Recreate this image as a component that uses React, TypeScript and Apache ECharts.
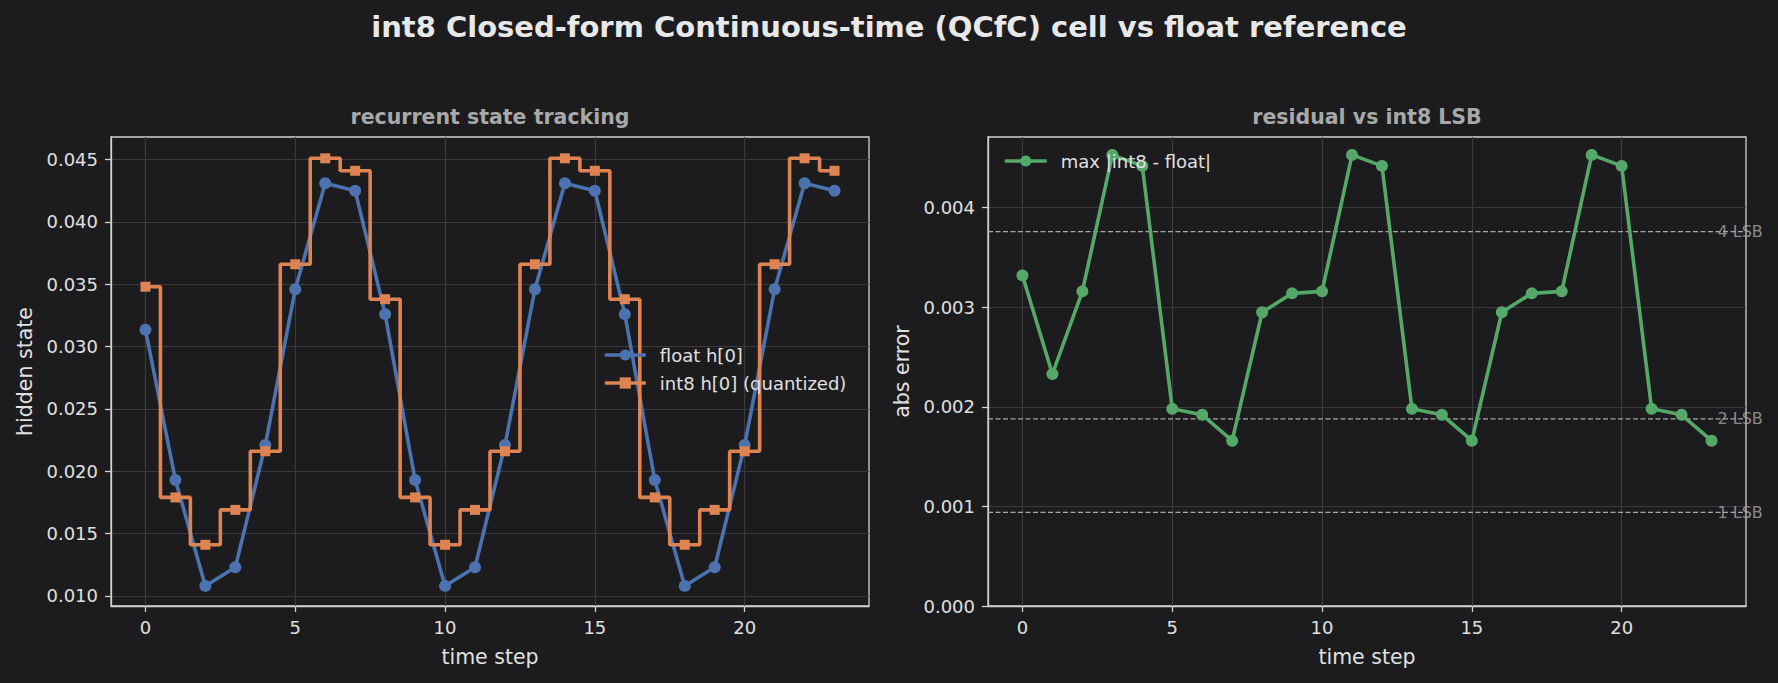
import React, { useEffect, useRef } from "react";
import * as echarts from "echarts";

// ---- data ----
const timeSteps = [0, 1, 2, 3, 4, 5, 6, 7, 8, 9, 10, 11, 12, 13, 14, 15, 16, 17, 18, 19, 20, 21, 22, 23];

const floatH0 = [
  0.03135, 0.0193, 0.0108, 0.0123, 0.0221, 0.0346, 0.0431, 0.0425,
  0.0326, 0.0193, 0.0108, 0.0123, 0.0221, 0.0346, 0.0431, 0.0425,
  0.0326, 0.0193, 0.0108, 0.0123, 0.0221, 0.0346, 0.0431, 0.0425,
];

const int8H0 = [
  0.0348, 0.0179, 0.0141, 0.0169, 0.0216, 0.0366, 0.0451, 0.0441,
  0.0338, 0.0179, 0.0141, 0.0169, 0.0216, 0.0366, 0.0451, 0.0441,
  0.0338, 0.0179, 0.0141, 0.0169, 0.0216, 0.0366, 0.0451, 0.0441,
];

const maxAbsErr = [
  0.00332, 0.00233, 0.00316, 0.00453, 0.00442, 0.00198, 0.00192, 0.00166,
  0.00295, 0.00314, 0.00316, 0.00453, 0.00442, 0.00198, 0.00192, 0.00166,
  0.00295, 0.00314, 0.00316, 0.00453, 0.00442, 0.00198, 0.00192, 0.00166,
];

const lsbLevels = [0.00094, 0.00188, 0.00376];
const lsbLabels = ["1 LSB", "2 LSB", "4 LSB"];

const xTicks = [0, 5, 10, 15, 20];
const yTicksState = [0.01, 0.015, 0.02, 0.025, 0.03, 0.035, 0.04, 0.045];
const yTicksErr = [0, 0.001, 0.002, 0.003, 0.004];

// ---- styling ----
const FONT = "DejaVu Sans";
const BG = "#1c1c1e";
const GRID_LINE = "#3b3b3d";
const SPINE = "#d2d2d2";
const TEXT = "#e0e0e0";
const SUBTITLE = "#a8a8a8";
const REF_LINE = "#a8a8a8";
const BLUE = "#4c72b0";
const ORANGE = "#dd8452";
const GREEN = "#55a868";

const X_MIN = -1.15;
const X_MAX = 24.15;
const LSB_LABEL_X = 23.2;

const LINE_W = 3.6;
const DOT = 12;
const SQUARE = 10;

const GRID_TOP = 137;
const GRID_H = 469;
const LEFT_GRID = { left: 111, width: 758 };
const RIGHT_GRID = { left: 988, width: 758 };

function xAxis(gridIndex: number) {
  return {
    type: "value",
    gridIndex,
    min: X_MIN,
    max: X_MAX,
    axisLine: { show: true, onZero: false, lineStyle: { color: SPINE, width: 1.3 } },
    axisTick: {
      show: true,
      length: 6,
      customValues: xTicks,
      lineStyle: { color: SPINE, width: 1.3 },
    },
    axisLabel: {
      customValues: xTicks,
      color: TEXT,
      fontSize: 18,
      fontFamily: FONT,
      margin: 12,
    },
    splitLine: { show: true, lineStyle: { color: GRID_LINE, width: 1.2 } },
    name: "time step",
    nameLocation: "middle",
    nameGap: 40,
    nameTextStyle: { color: TEXT, fontSize: 20.5, fontFamily: FONT },
  };
}

function yAxis(gridIndex: number, min: number, max: number, ticks: number[], name: string) {
  return {
    type: "value",
    gridIndex,
    min,
    max,
    axisLine: { show: true, onZero: false, lineStyle: { color: SPINE, width: 1.3 } },
    axisTick: {
      show: true,
      length: 6,
      customValues: ticks,
      lineStyle: { color: SPINE, width: 1.3 },
    },
    axisLabel: {
      customValues: ticks,
      color: TEXT,
      fontSize: 18,
      fontFamily: FONT,
      margin: 13,
      formatter: (v: number) => v.toFixed(3),
    },
    splitLine: { show: true, lineStyle: { color: GRID_LINE, width: 1.2 } },
    name,
    nameLocation: "middle",
    nameGap: 76,
    nameTextStyle: { color: TEXT, fontSize: 20.5, fontFamily: FONT },
  };
}

export default function App() {
  const ref = useRef<HTMLDivElement>(null);

  useEffect(() => {
    if (!ref.current) return;
    const chart = echarts.init(ref.current, undefined, { renderer: "svg" });

    // Horizontal dashed reference lines at 1, 2 and 4 LSB across the residual panel
    const lsbLineSeries = lsbLevels.map((v, i) => ({
      name: lsbLabels[i],
      type: "line",
      xAxisIndex: 1,
      yAxisIndex: 1,
      data: [
        [X_MIN, v],
        [X_MAX, v],
      ],
      symbol: "none",
      silent: true,
      lineStyle: { color: REF_LINE, width: 1.3, type: [5, 2.5] },
      z: 1,
    }));

    const option = {
      animation: false,
      backgroundColor: BG,
      textStyle: { fontFamily: FONT },
      graphic: [
        {
          type: "text",
          x: 889,
          y: 27,
          style: {
            text: "int8 Closed-form Continuous-time (QCfC) cell vs float reference",
            font: `bold 29px '${FONT}'`,
            fill: "#e8e8e8",
            textAlign: "center",
            textVerticalAlign: "middle",
          },
        },
        {
          type: "text",
          x: LEFT_GRID.left + LEFT_GRID.width / 2,
          y: 117,
          style: {
            text: "recurrent state tracking",
            font: `bold 20.5px '${FONT}'`,
            fill: SUBTITLE,
            textAlign: "center",
            textVerticalAlign: "middle",
          },
        },
        {
          type: "text",
          x: RIGHT_GRID.left + RIGHT_GRID.width / 2,
          y: 117,
          style: {
            text: "residual vs int8 LSB",
            font: `bold 20.5px '${FONT}'`,
            fill: SUBTITLE,
            textAlign: "center",
            textVerticalAlign: "middle",
          },
        },
      ],
      grid: [
        {
          ...LEFT_GRID,
          top: GRID_TOP,
          height: GRID_H,
          show: true,
          borderColor: SPINE,
          borderWidth: 1.3,
          backgroundColor: "transparent",
        },
        {
          ...RIGHT_GRID,
          top: GRID_TOP,
          height: GRID_H,
          show: true,
          borderColor: SPINE,
          borderWidth: 1.3,
          backgroundColor: "transparent",
        },
      ],
      xAxis: [xAxis(0), xAxis(1)],
      yAxis: [
        yAxis(0, 0.00919, 0.04681, yTicksState, "hidden state"),
        yAxis(1, 0, 0.00471, yTicksErr, "abs error"),
      ],
      legend: [
        {
          data: ["float h[0]", "int8 h[0] (quantized)"],
          orient: "vertical",
          left: 603,
          top: 346,
          padding: 0,
          itemWidth: 41,
          itemHeight: 14,
          itemGap: 10,
          lineStyle: { width: LINE_W },
          textStyle: { color: TEXT, fontSize: 18, fontFamily: FONT, padding: [0, 0, 0, 9] },
        },
        {
          data: ["max |int8 - float|"],
          orient: "vertical",
          left: 1003,
          top: 152,
          padding: 0,
          itemWidth: 42,
          itemHeight: 14,
          lineStyle: { width: LINE_W },
          textStyle: { color: TEXT, fontSize: 18, fontFamily: FONT, padding: [0, 0, 0, 9] },
        },
      ],
      series: [
        {
          name: "float h[0]",
          type: "line",
          xAxisIndex: 0,
          yAxisIndex: 0,
          data: timeSteps.map((t, i) => [t, floatH0[i]]),
          symbol: "circle",
          symbolSize: DOT,
          lineStyle: { color: BLUE, width: LINE_W },
          itemStyle: { color: BLUE },
          z: 2,
        },
        {
          name: "int8 h[0] (quantized)",
          type: "line",
          step: "middle",
          xAxisIndex: 0,
          yAxisIndex: 0,
          data: timeSteps.map((t, i) => [t, int8H0[i]]),
          symbol: "rect",
          symbolSize: SQUARE,
          lineStyle: { color: ORANGE, width: LINE_W },
          itemStyle: { color: ORANGE },
          z: 3,
        },
        ...lsbLineSeries,
        {
          name: "max |int8 - float|",
          type: "line",
          xAxisIndex: 1,
          yAxisIndex: 1,
          data: timeSteps.map((t, i) => [t, maxAbsErr[i]]),
          symbol: "circle",
          symbolSize: DOT,
          lineStyle: { color: GREEN, width: LINE_W },
          itemStyle: { color: GREEN },
          z: 3,
        },
        {
          name: "lsb-labels",
          type: "scatter",
          xAxisIndex: 1,
          yAxisIndex: 1,
          symbolSize: 0,
          silent: true,
          data: lsbLevels.map((v, i) => [LSB_LABEL_X, v, lsbLabels[i]]),
          label: {
            show: true,
            position: "right",
            distance: 0,
            formatter: (p: any) => p.data[2],
            color: REF_LINE,
            fontSize: 16,
            fontFamily: FONT,
          },
          z: 4,
        },
      ],
    };

    chart.setOption(option as any);
    return () => chart.dispose();
  }, []);

  return (
    <div
      ref={ref}
      style={{ position: "absolute", left: 0, top: 0, width: 1778, height: 683, background: BG }}
    />
  );
}
